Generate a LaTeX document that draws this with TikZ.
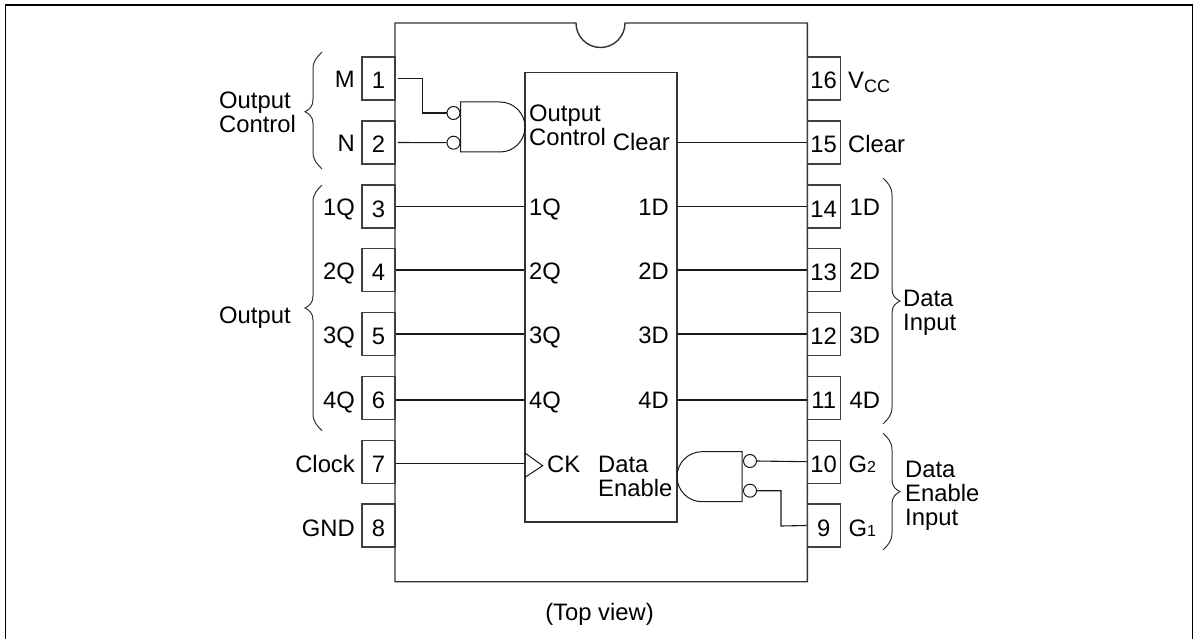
\documentclass[tikz,border=0pt]{standalone}
\usepackage{fontspec}
\setmainfont{Liberation Sans}
\newcommand{\brL}[3]{% tip x=322, spine 313, point 305 (top, mid, bottom in px)
  \pgfmathsetmacro{\ta}{#1+5}\pgfmathsetmacro{\tb}{#1+9}\pgfmathsetmacro{\tc}{#1+17}
  \pgfmathsetmacro{\ma}{#2-12}\pgfmathsetmacro{\mb}{#2-5}\pgfmathsetmacro{\mc}{#2-2}
  \pgfmathsetmacro{\md}{#2+2}\pgfmathsetmacro{\me}{#2+5}\pgfmathsetmacro{\mf}{#2+12}
  \pgfmathsetmacro{\ba}{#3-17}\pgfmathsetmacro{\bb}{#3-9}\pgfmathsetmacro{\bc}{#3-5}
  \draw[bracel] (322,-#1) .. controls (317,-\ta) and (313,-\tb) .. (313,-\tc) -- (313,-\ma)
    .. controls (313,-\mb) and (309,-\mc) .. (305,-#2) .. controls (309,-\md) and (313,-\me) .. (313,-\mf)
    -- (313,-\ba) .. controls (313,-\bb) and (317,-\bc) .. (322,-#3);}
\newcommand{\brR}[3]{%
  \pgfmathsetmacro{\ta}{#1+5}\pgfmathsetmacro{\tb}{#1+9}\pgfmathsetmacro{\tc}{#1+17}
  \pgfmathsetmacro{\ma}{#2-12}\pgfmathsetmacro{\mb}{#2-5}\pgfmathsetmacro{\mc}{#2-2}
  \pgfmathsetmacro{\md}{#2+2}\pgfmathsetmacro{\me}{#2+5}\pgfmathsetmacro{\mf}{#2+12}
  \pgfmathsetmacro{\ba}{#3-17}\pgfmathsetmacro{\bb}{#3-9}\pgfmathsetmacro{\bc}{#3-5}
  \draw[bracel] (883,-#1) .. controls (888,-\ta) and (892,-\tb) .. (892,-\tc) -- (892,-\ma)
    .. controls (892,-\mb) and (896,-\mc) .. (900,-#2) .. controls (896,-\md) and (892,-\me) .. (892,-\mf)
    -- (892,-\ba) .. controls (892,-\bb) and (888,-\bc) .. (883,-#3);}
\begin{document}
\begin{tikzpicture}[x=1pt,y=1pt,
  font=\fontsize{23.8}{24}\selectfont,
  body/.style={draw=black!80,line width=1.4pt},
  thin line/.style={draw=black!90,line width=1pt},
  bracel/.style={draw=black!80,line width=1pt},
  wire/.style={draw=black!90,line width=1.1pt},
  pinbox/.style={draw=black!75,line width=1.2pt,minimum width=33pt,minimum height=43pt,inner sep=0pt,text height=21pt,text depth=0pt},
  bubble/.style={circle,draw=black!90,line width=1pt,fill=white,minimum size=13pt,inner sep=0pt},
  lab/.style={inner sep=0pt},
  ml/.style={inner sep=0pt,align=left,anchor=base west},
]
\useasboundingbox (0,-639) rectangle (1198,0);
% frame
\draw[line width=1.4pt] (5.5,-639) -- (5.5,-5) -- (1192.7,-5) -- (1192.7,-639);
% package outline with notch
\draw[body] (395,-23) -- (576,-23) arc[start angle=180,end angle=360,radius=24.5pt] -- (807.3,-23) -- (807.3,-581.7) -- (395,-581.7) -- cycle;
% core
\node[body,minimum width=151.7pt,minimum height=449.3pt,inner sep=0pt] (core) at (601,-297.3) {};
% pins left
\node[pinbox] (p1) at (378.5,-78.5) {1};
\node[pinbox] (p2) at (378.5,-142.5) {2};
\node[pinbox] (p3) at (378.5,-206.5) {3};
\node[pinbox] (p4) at (378.5,-270) {4};
\node[pinbox] (p5) at (378.5,-334) {5};
\node[pinbox] (p6) at (378.5,-397.7) {6};
\node[pinbox] (p7) at (378.5,-461.7) {7};
\node[pinbox] (p8) at (378.5,-525.5) {8};
% pins right
\node[pinbox] (p16) at (823.7,-78.5) {16};
\node[pinbox] (p15) at (823.7,-142.5) {15};
\node[pinbox] (p14) at (823.7,-206.5) {14};
\node[pinbox] (p13) at (823.7,-270) {13};
\node[pinbox] (p12) at (823.7,-334) {12};
\node[pinbox] (p11) at (823.7,-397.7) {11};
\node[pinbox] (p10) at (823.7,-461.7) {10};
\node[pinbox] (p9) at (823.7,-525.5) {9};
% straight wires
\coordinate (w6) at ([yshift=-2.3pt]p6.east);
\coordinate (w7) at ([yshift=-1.5pt]p7.east);
\coordinate (w11) at ([yshift=-2.3pt]p11.west);
\foreach \n in {3,4,5}{\draw[wire] (p\n.east) -- (core.west |- p\n.east);}
\draw[wire] (w6) -- (core.west |- w6);
\draw[wire] (w7) -- (core.west |- w7);
\foreach \n in {15,14,13,12}{\draw[wire] (core.east |- p\n.west) -- (p\n.west);}
\draw[wire] (core.east |- w11) -- (w11);
% clock triangle
\draw[thin line] (525,-453) -- (542.7,-465.7) -- (525,-477.3);
% left gate
\draw[thin line] (460.7,-102) -- (500,-102) arc[start angle=90,end angle=-90,radius=25pt] -- (460.7,-152) -- cycle;
\node[bubble] (b1) at (453.5,-113) {};
\node[bubble] (b2) at (453.5,-142.7) {};
\draw[wire] ([xshift=2pt]p1.east) -- ++(25,0) |- (b1.west);
\draw[wire] ([xshift=2pt]p2.east) -- (b2.west);
% right gate
\draw[thin line] (742,-451.7) -- (702,-451.7) arc[start angle=90,end angle=270,radius=25pt] -- (742,-501.7) -- cycle;
\node[bubble] (b3) at (750,-461) {};
\node[bubble] (b4) at (750,-490.7) {};
\draw[wire] (b3.east) -- (p10.west);
\draw[wire] (b4.east) -| (781,-526) -- (p9.west);
% left labels
\node[lab,anchor=base east] (lM) at (355,-87.5) {M};
\node[lab,anchor=base east] (lN) at (355,-152) {N};
\node[lab,anchor=base east] (l1Q) at (355,-215.7) {1Q};
\node[lab,anchor=base east] (l2Q) at (355,-279.5) {2Q};
\node[lab,anchor=base east] (l3Q) at (355,-343.5) {3Q};
\node[lab,anchor=base east] (l4Q) at (355,-408.5) {4Q};
\node[lab,anchor=base east] (lclk) at (355,-472.7) {Clock};
\node[lab,anchor=base east] (lgnd) at (355,-536.7) {GND};
\node[ml] (oc) at (219,-133) {Output\\Control};
\node[ml] (oo) at (219,-323) {Output};
% right labels
\node[lab,anchor=base west] (lV) at (848,-89) {V\raisebox{-4pt}{\fontsize{18}{18}\selectfont CC}};
\node[lab,anchor=base west] (lC) at (848,-152.5) {Clear};
\node[lab,anchor=base west] (l1D) at (849.5,-215.7) {1D};
\node[lab,anchor=base west] (l2D) at (849.5,-279.5) {2D};
\node[lab,anchor=base west] (l3D) at (849.5,-343.5) {3D};
\node[lab,anchor=base west] (l4D) at (849.5,-408.5) {4D};
\node[lab,anchor=base west] (lG2) at (848.5,-472) {G{\fontsize{16}{16}\selectfont 2}};
\node[lab,anchor=base west] (lG1) at (848.5,-536) {G{\fontsize{16}{16}\selectfont 1}};
\node[ml] (di) at (903,-330) {Data\\Input};
\node[ml] (dei) at (905,-525.7) {Data\\Enable\\Input};
% inner labels
\node[ml] (ioc) at (529,-145.7) {Output\\Control};
\node[lab,anchor=base east] (iC) at (670,-151) {Clear};
\node[lab,anchor=base west] (i1Q) at (529,-215.7) {1Q};
\node[lab,anchor=base west] (i2Q) at (529,-279.5) {2Q};
\node[lab,anchor=base west] (i3Q) at (529,-343.5) {3Q};
\node[lab,anchor=base west] (i4Q) at (529,-408.5) {4Q};
\node[lab,anchor=base east] (i1D) at (669,-215.7) {1D};
\node[lab,anchor=base east] (i2D) at (669,-279.5) {2D};
\node[lab,anchor=base east] (i3D) at (669,-343.5) {3D};
\node[lab,anchor=base east] (i4D) at (669,-408.5) {4D};
\node[lab,anchor=base west] (iCK) at (547,-472.7) {CK};
\node[ml] (ide) at (598,-496.7) {Data\\Enable};
% braces
\brL{52}{111.7}{169}
\brL{185}{308}{430.7}
\brR{178}{301}{424}
\brR{433}{491.7}{550}
% caption
\node[lab,anchor=base] (cap) at (599.5,-620) {(Top view)};
\end{tikzpicture}
\end{document}
